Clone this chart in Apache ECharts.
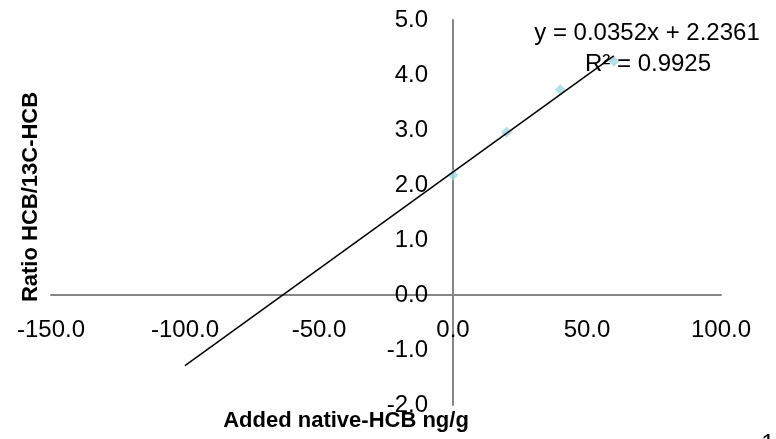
<!DOCTYPE html>
<html>
<head>
<meta charset="utf-8">
<script src="https://cdn.jsdelivr.net/npm/echarts@6/dist/echarts.min.js"></script>
<style>
html,body{margin:0;padding:0;background:#fff;}
#c{width:776px;height:439px;}
</style>
</head>
<body>
<div id="c"></div>
<script>
// Data
const addedNative = [0, 20, 40, 60];
const ratio = [2.18, 2.96, 3.73, 4.25];
// Trendline as reported on the chart
const slope = 0.0352;
const intercept = 2.2361;
const trendRange = [-100, 60];
const equationText = ['y = 0.0352x + 2.2361', 'R² = 0.9925'];
const xTitle = 'Added native-HCB ng/g';
const yTitle = 'Ratio HCB/13C-HCB';
const xRange = [-150, 100];
const yRange = [-2, 5];

const FONT = '"Liberation Sans", Arial, sans-serif';
const points = addedNative.map((x, i) => [x, ratio[i]]);
const trend = trendRange.map(x => [x, slope * x + intercept]);

const W = 776, H = 439;
const G = {left: 51, right: 55, top: 20, bottom: 34};
const gw = W - G.left - G.right, gh = H - G.top - G.bottom;
// place axes (with their labels) through the origin, as in the original
const yOffset = -gw * (0 - xRange[0]) / (xRange[1] - xRange[0]);
const xOffset = -gh * (0 - yRange[0]) / (yRange[1] - yRange[0]);

const chart = echarts.init(document.getElementById('c'));
chart.setOption({
  animation: false,
  backgroundColor: '#fff',
  grid: Object.assign({containLabel: false}, G),
  xAxis: {
    type: 'value', min: xRange[0], max: xRange[1], interval: 50,
    position: 'bottom', offset: xOffset,
    axisLine: {onZero: false, lineStyle: {color: '#868686', width: 2}},
    axisTick: {show: false},
    splitLine: {show: false},
    axisLabel: {
      margin: 23, color: '#000', fontSize: 24, fontFamily: FONT,
      showMinLabel: true, showMaxLabel: true,
      formatter: v => v.toFixed(1)
    }
  },
  yAxis: {
    type: 'value', min: yRange[0], max: yRange[1], interval: 1,
    position: 'left', offset: yOffset,
    axisLine: {show: true, onZero: false, lineStyle: {color: '#868686', width: 2}},
    axisTick: {show: false},
    splitLine: {show: false},
    axisLabel: {
      margin: 25, color: '#000', fontSize: 24, fontFamily: FONT,
      showMinLabel: true, showMaxLabel: true,
      formatter: v => v.toFixed(1)
    }
  },
  series: [
    {
      type: 'scatter', data: points, symbol: 'diamond', symbolSize: 11,
      itemStyle: {color: '#a3d8de'}, z: 2
    },
    {
      type: 'line', data: trend, showSymbol: false, symbol: 'none',
      lineStyle: {color: '#000', width: 1.5}, z: 3
    }
  ],
  graphic: [
    {type: 'text', x: 31, y: 197, rotation: Math.PI / 2,
     style: {text: yTitle, font: 'bold 22px ' + FONT, fill: '#000', textAlign: 'center', textVerticalAlign: 'middle'}},
    {type: 'text', x: 346, y: 421,
     style: {text: xTitle, font: 'bold 22px ' + FONT, fill: '#000', textAlign: 'center', textVerticalAlign: 'middle'}},
    {type: 'text', x: 647, y: 33,
     style: {text: equationText[0], font: '24px ' + FONT, fill: '#000', textAlign: 'center', textVerticalAlign: 'middle'}},
    {type: 'text', x: 648, y: 64,
     style: {text: equationText[1], font: '24px ' + FONT, fill: '#000', textAlign: 'center', textVerticalAlign: 'middle'}},
    {type: 'text', x: 768, y: 432,
     style: {text: '1', font: '24px ' + FONT, fill: '#000', textAlign: 'center', textVerticalAlign: 'top'}}
  ]
});
</script>
</body>
</html>
